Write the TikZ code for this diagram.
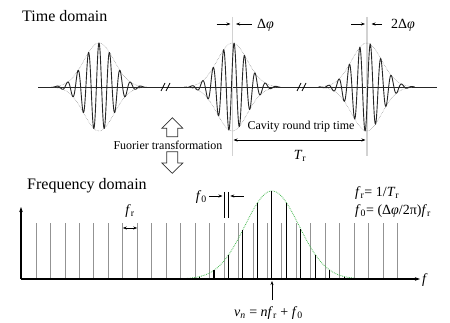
\documentclass[tikz,border=0pt]{standalone}
\usepackage{fontspec}
\setmainfont{Liberation Serif}
\usetikzlibrary{arrows.meta}
\newcommand{\myfr}{\textit{f}\textsubscript{r}}
\newcommand{\myfo}{\textit{f}\textsubscript{0}}
\newcommand{\myTr}{\textit{T}\textsubscript{r}}
\newcommand{\mydphi}{Δ\textit{φ}}
\begin{document}
\begin{tikzpicture}[x=1pt,y=-1pt,
  wave/.style={line width=0.9pt, black!85},
  env/.style={gray, densely dotted, line width=0.5pt},
  refline/.style={gray!35, line width=1.6pt},
  dim/.style={-{Stealth[length=4pt,width=3pt]}, line width=0.6pt},
  dimboth/.style={{Stealth[length=4pt,width=3pt]}-{Stealth[length=4pt,width=3pt]}, line width=0.6pt},
  comb/.style={gray!85, line width=0.8pt},
  tooth/.style={black, line width=1.1pt},
  axis/.style={line width=1.2pt, -{Stealth[length=5pt,width=3.5pt]}},
  hollow/.style={draw=black!80, line width=0.7pt, fill=white},
  big/.style={font=\fontsize{16}{18}\selectfont, inner sep=0pt},
  mid/.style={font=\fontsize{12}{14}\selectfont, inner sep=0pt},
  lab/.style={font=\fontsize{14}{16}\selectfont, inner sep=0pt},
  gauss/.style={draw={rgb,255:red,70;green,185;blue,80}, densely dotted, line width=0.8pt}
]
\useasboundingbox (0,0) rectangle (450,323);

% ---------- Time domain ----------
\node[big, anchor=west] (tdom) at (22,16) {Time domain};

\coordinate (tl) at (38,87);
\coordinate (tr) at (437,87);
\draw[wave, line width=0.7pt] (tl) -- (tr);

% break marks
\foreach \bx in {164,300}{
  \draw[line width=0.7pt] (\bx-3,91) -- (\bx+1,83);
  \draw[line width=0.7pt] (\bx+2,91) -- (\bx+6,83);
}

% reference lines
\coordinate (r2t) at (232.3,17); \coordinate (r2b) at (232.3,156);
\coordinate (r3t) at (366.7,17); \coordinate (r3b) at (366.7,156);
\draw[refline] (r2t) -- (r2b);
\draw[refline] (r3t) -- (r3b);

% pulses
\foreach \c/\ph in {99/0, 232.3/1.8, 366.7/3.6}{
  \draw[env] plot[domain=-46:46, samples=120] ({\c+\x}, {87-44*exp(-(\x*\x)/450)});
  \draw[env] plot[domain=-46:46, samples=120] ({\c+\x}, {87+44*exp(-(\x*\x)/450)});
  \draw[wave] plot[domain=-48:48, samples=500] ({\c+\x}, {87-44*exp(-(\x*\x)/450)*cos(34.3*(\x-\ph))});
}

% delta phi markers
\coordinate (a1s) at (216.5,24); \coordinate (a1e) at (230.5,24);
\coordinate (a2s) at (251.5,24); \coordinate (a2e) at (236,24);
\draw[dim] (a1s) -- (a1e);
\draw[dim] (a2s) -- (a2e);
\node[lab, anchor=west] (dphi) at (257,25) {\mydphi};

\coordinate (b1s) at (351,24); \coordinate (b1e) at (365,24);
\coordinate (b2s) at (382,24); \coordinate (b2e) at (371.5,24);
\draw[dim] (b1s) -- (b1e);
\draw[dim] (b2s) -- (b2e);
\node[lab, anchor=west] (ddphi) at (391,25) {2\mydphi};

% cavity round trip
\node[mid] (cav) at (301,127) {Cavity round trip time};
\coordinate (trl) at (233.5,140); \coordinate (trr) at (365.5,140);
\draw[dimboth] (trl) -- (trr);
\node[lab] (Tr) at (300,156) {\myTr};

% Fourier hollow arrows
\draw[hollow] (172.3,117.7) -- (182.8,128.3) -- (177.8,128.3) -- (177.8,136.7)
  -- (166.8,136.7) -- (166.8,128.3) -- (161.8,128.3) -- cycle;
\node[mid] (ft) at (168,145) {Fuorier transformation};
\draw[hollow] (172.3,173.3) -- (182.8,163) -- (177.8,163) -- (177.8,151.7)
  -- (166.8,151.7) -- (166.8,163) -- (161.8,163) -- cycle;

% ---------- Frequency domain ----------
\node[big, anchor=west] (fdom) at (27,186) {Frequency domain};

\coordinate (o) at (21,279);
\coordinate (ytop) at (21,207);
\coordinate (xend) at (420,279);

\foreach \k in {0,...,25}{
  \draw[comb] ({36+14.46*\k},279) -- ({36+14.46*\k},223);
}
\draw[gauss] plot[domain=185:356, samples=120] (\x, {279-88*exp(-((\x-272)*(\x-272))/1458)});
\foreach \k in {11,...,21}{
  \pgfmathsetmacro\xx{40.5+14.46*\k}
  \pgfmathsetmacro\hh{88*exp(-((\xx-272)*(\xx-272))/1458)}
  \draw[tooth] (\xx,279) -- (\xx,279-\hh);
}
\draw[axis] (o) -- (ytop);
\draw[axis] (o) -- (xend);
\node[lab, anchor=west] (flab) at (422,280) {\textit{f}};

% f_r marker
\coordinate (frl) at (122.8,228); \coordinate (frr) at (137.2,228);
\draw[dimboth] (frl) -- (frr);
\node[lab] (frlab) at (130,211) {\myfr};

% f_0 marker
\draw[line width=0.6pt] (224.3,192) -- (224.3,218);
\draw[line width=0.6pt] (228.5,192) -- (228.5,218);
\coordinate (f1s) at (209,196); \coordinate (f1e) at (222.5,196);
\coordinate (f2s) at (243.5,196); \coordinate (f2e) at (230.3,196);
\draw[dim] (f1s) -- (f1e);
\draw[dim] (f2s) -- (f2e);
\node[lab, anchor=east] (folab) at (207,197) {\myfo};

% formulas
\node[lab, anchor=west] (eq1) at (355,193) {\myfr= 1/\myTr};
\node[lab, anchor=west] (eq2) at (355,211) {\myfo= (\mydphi/2π)\myfr};

% nu_n
\coordinate (nub) at (272,300); \coordinate (nut) at (272,281);
\draw[dim] (nub) -- (nut);
\node[lab, anchor=west] (nu) at (234,313) {\textit{ν\textsubscript{n}} = \textit{n}\myfr{} + \myfo};
\end{tikzpicture}
\end{document}
